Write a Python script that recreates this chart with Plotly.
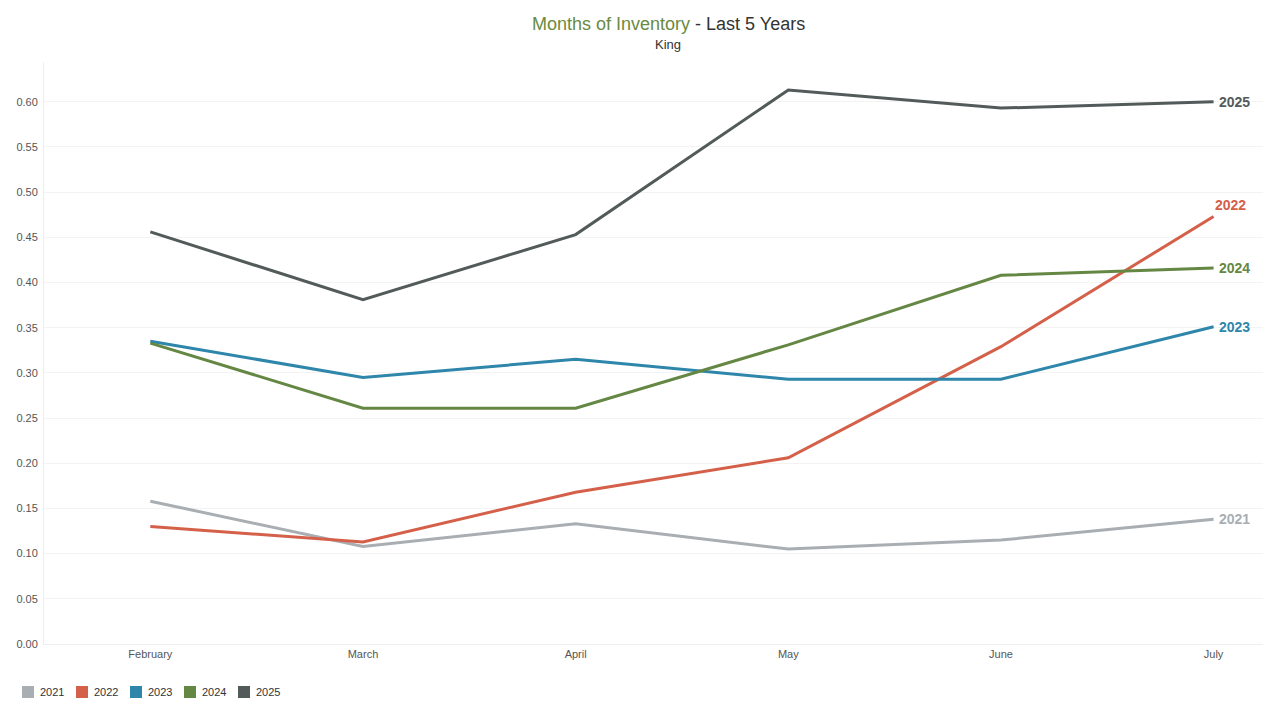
import plotly.graph_objects as go

months = ["February", "March", "April", "May", "June", "July"]
years = ["2021", "2022", "2023", "2024", "2025"]
v2021 = [0.158, 0.108, 0.133, 0.105, 0.115, 0.138]
v2022 = [0.130, 0.113, 0.168, 0.206, 0.329, 0.473]
v2023 = [0.335, 0.295, 0.315, 0.293, 0.293, 0.351]
v2024 = [0.333, 0.261, 0.261, 0.331, 0.408, 0.416]
v2025 = [0.456, 0.381, 0.453, 0.613, 0.593, 0.600]
colors = ["#a9aeb3", "#d4604a", "#2e86ab", "#658744", "#535a5a"]
series = [v2021, v2022, v2023, v2024, v2025]

# page offset (browser body margin) = 8px
W, H = 1263, 700
L, T, B = 36, 54, 64
PW, PH = W - L, H - T - B


def px(xp):  # page x -> paper fraction
    return (xp - 8 - L) / PW


def py(yp):  # page y -> paper fraction
    return (H - B - (yp - 8)) / PH


FONT = "Arial, Liberation Sans, sans-serif"
x = list(range(len(months)))
fig = go.Figure()
for name, vals, c in zip(years, series, colors):
    fig.add_trace(go.Scatter(x=x, y=vals, mode="lines", name=name,
                             line=dict(color=c, width=3), showlegend=False,
                             cliponaxis=False,
                             hovertemplate="%{y:.2f}<extra>" + name + "</extra>"))

for name, vals, c in zip(years, series, colors):
    if name == "2022":
        fig.add_annotation(x=x[-1], y=vals[-1], text="<b>" + name + "</b>", showarrow=False,
                           xanchor="left", yanchor="middle", xshift=-1, yshift=12,
                           font=dict(size=14, color=c, family=FONT))
    else:
        fig.add_annotation(x=x[-1], y=vals[-1], text="<b>" + name + "</b>", showarrow=False,
                           xanchor="left", yanchor="middle", xshift=3,
                           font=dict(size=14, color=c, family=FONT))

# title / subtitle
fig.add_annotation(xref="paper", yref="paper", x=px(668), y=py(24),
                   xanchor="center", yanchor="middle", showarrow=False,
                   text="<span style='color:#6a8a40'>Months of Inventory</span> - Last 5 Years",
                   font=dict(size=18, color="#333", family=FONT))
fig.add_annotation(xref="paper", yref="paper", x=px(668), y=py(44),
                   xanchor="center", yanchor="middle", showarrow=False,
                   text="King", font=dict(size=13, color="#333", family=FONT))

# legend (bottom-left, square swatches)
for i, (name, c) in enumerate(zip(years, colors)):
    x0 = 22 + 54 * i
    fig.add_shape(type="rect", xref="paper", yref="paper",
                  x0=px(x0), x1=px(x0 + 12), y0=py(698), y1=py(686),
                  fillcolor=c, line=dict(width=0))
    fig.add_annotation(xref="paper", yref="paper", x=px(x0 + 16), y=py(692),
                       xanchor="left", yanchor="middle", showarrow=False,
                       text=name, font=dict(size=11, color="#333", family=FONT))

fig.update_layout(
    width=W, height=H,
    paper_bgcolor="white", plot_bgcolor="white",
    margin=dict(l=L, r=0, t=T, b=B, autoexpand=False),
    font=dict(family=FONT, size=11, color="#555"),
    xaxis=dict(tickmode="array", tickvals=x, ticktext=months, range=[-0.5, 5.27],
               showgrid=False, showline=True, linecolor="#eeeeee", zeroline=False,
               automargin=False, tickfont=dict(size=11, color="#555")),
    yaxis=dict(range=[0, 0.644], dtick=0.05, tickformat=".2f", showgrid=True,
               gridcolor="#f3f3f3", showline=True, linecolor="#eeeeee", zeroline=False,
               automargin=False, ticks="", ticklabelstandoff=3,
               tickfont=dict(size=11, color="#555")),
    showlegend=False,
)

fig.write_html("out.html")
